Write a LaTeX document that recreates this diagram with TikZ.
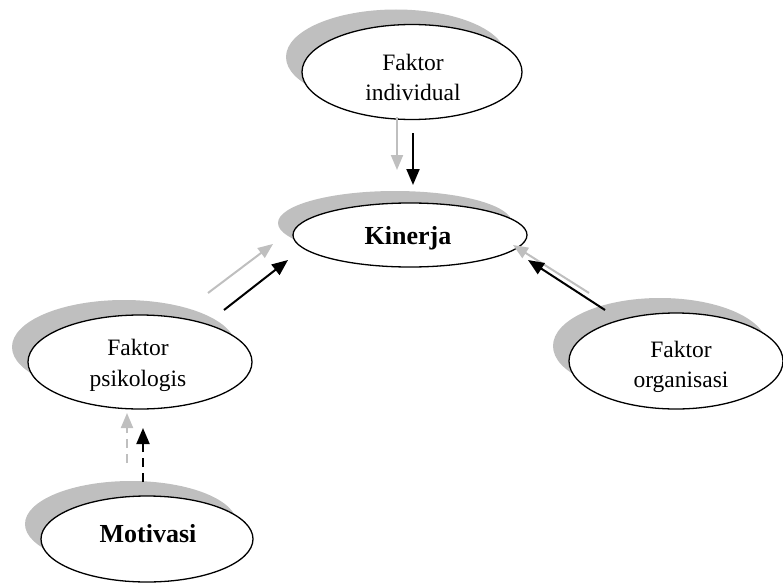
\documentclass[tikz,border=0pt]{standalone}
\usepackage{fontspec}
\setmainfont{Liberation Serif}
\usetikzlibrary{shapes.geometric,arrows.meta,shadows}
\definecolor{shade}{RGB}{191,191,191}
\begin{document}
\begin{tikzpicture}[x=1pt,y=-1pt,
  bub/.style={ellipse,draw=black,line width=1.3pt,fill=white,inner sep=0pt,
    general shadow={shadow xshift=-16pt,shadow yshift=15pt,fill=shade}},
  bubk/.style={ellipse,draw=black,line width=1.3pt,fill=white,inner sep=0pt,
    general shadow={shadow xshift=-15pt,shadow yshift=12pt,fill=shade}},
  txt/.style={anchor=base,inner sep=0pt,font=\fontsize{23.5}{28}\selectfont},
  btxt/.style={anchor=base,inner sep=0pt,font=\fontsize{26}{30}\selectfont\bfseries},
  blk/.style={line width=2pt,-{Triangle[length=16pt,width=13pt]}},
  gry/.style={line width=2pt,draw=shade,-{Triangle[length=15pt,width=12pt,fill=shade]}},
  dsh/.style={dash pattern=on 9pt off 6pt}]
\useasboundingbox (0,0) rectangle (783,583);

% ellipses
\node[bub,minimum width=220pt,minimum height=95pt] (ind) at (412,72) {};
\node[bubk,minimum width=234pt,minimum height=64pt] (kin) at (410,235) {};
\node[bub,minimum width=224pt,minimum height=94pt] (psi) at (140,362) {};
\node[bub,minimum width=214pt,minimum height=96pt] (org) at (676,361) {};
\node[bub,minimum width=212pt,minimum height=86pt] (mot) at (147,539) {};

% texts
\node[txt] (ind1) at (413,71) {Faktor};
\node[txt] (ind2) at (413,100) {individual};
\node[btxt] (kint) at (408,244) {Kinerja};
\node[txt] (psi1) at (138,355) {Faktor};
\node[txt] (psi2) at (138,386) {psikologis};
\node[txt] (org1) at (681,357) {Faktor};
\node[txt] (org2) at (681,387) {organisasi};
\node[btxt] (mott) at (148,542) {Motivasi};

% connector end points
\coordinate (ia) at (413,133); \coordinate (ib) at (413,185);
\coordinate (iga) at (397,117); \coordinate (igb) at (397,170);
\coordinate (pa) at (224,310); \coordinate (pb) at (288,260);
\coordinate (pga) at (208,293); \coordinate (pgb) at (273,244);
\coordinate (oa) at (605,310); \coordinate (ob) at (528,260);
\coordinate (oga) at (589,293); \coordinate (ogb) at (513,245);
\coordinate (ma) at (143,482); \coordinate (mb) at (143,428);
\coordinate (mga) at (127,463); \coordinate (mgb) at (127,413);

% shadow arrows
\draw[gry] (iga) -- (igb);
\draw[gry] (pga) -- (pgb);
\draw[gry] (oga) -- (ogb);
\draw[gry,dsh] (mga) -- (mgb);
% black arrows
\draw[blk] (ia) -- (ib);
\draw[blk] (pa) -- (pb);
\draw[blk] (oa) -- (ob);
\draw[blk,dsh] (ma) -- (mb);
\end{tikzpicture}
\end{document}
